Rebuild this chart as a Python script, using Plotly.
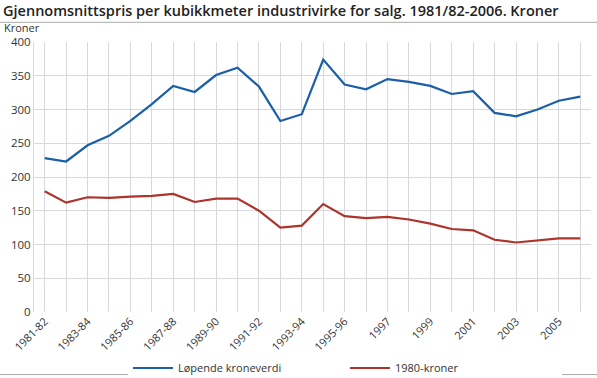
import plotly.graph_objects as go

categories = ["1981-82", "1982-83", "1983-84", "1984-85", "1985-86", "1986-87",
              "1987-88", "1988-89", "1989-90", "1990-91", "1991-92", "1992-93",
              "1993-94", "1994-95", "1995-96", "1996", "1997", "1998", "1999",
              "2000", "2001", "2002", "2003", "2004", "2005", "2006"]
lopende = [228, 223, 247, 261, 283, 308, 335, 326, 351, 362, 334, 283,
           293, 374, 337, 330, 345, 341, 335, 323, 327, 295, 290, 300, 313, 319]
kroner1980 = [179, 162, 170, 169, 171, 172, 175, 163, 168, 168, 150, 125,
              128, 160, 142, 139, 141, 137, 131, 123, 121, 107, 103, 106, 109, 109]
tick_labels = [c if i % 2 == 0 else "" for i, c in enumerate(categories)]
y_ticks = [0, 50, 100, 150, 200, 250, 300, 350, 400]

FONT = "Open Sans"
fig = go.Figure()
fig.add_trace(go.Scatter(x=categories, y=lopende, mode="lines", name="Løpende kroneverdi",
                         line=dict(color="#1a5fa8", width=2.2)))
fig.add_trace(go.Scatter(x=categories, y=kroner1980, mode="lines", name="1980-kroner",
                         line=dict(color="#ad342b", width=2.2)))

W, H = 597, 378
PL, PR, PT, PB = 34, 591, 41.7, 312.3
L, R, T, B = PL, W - PR, PT, H - PB
pw, ph = PR - PL, PB - PT

def px(x):
    return (x - PL) / pw

def py(y):
    return (PB - y) / ph

fig.update_layout(
    width=W, height=H,
    margin=dict(l=L, r=R, t=T, b=B, autoexpand=False),
    paper_bgcolor="white", plot_bgcolor="white",
    font=dict(family=FONT, size=11, color="#333333"),
    showlegend=True,
    legend=dict(orientation="h", x=128 / W, xanchor="left", xref="container",
                y=1 - 368 / H, yanchor="middle", yref="container",
                font=dict(size=11, color="#333333"),
                tracegroupgap=0, itemwidth=40, entrywidth=162),
    xaxis=dict(type="category", range=[-0.5, 25.5], tickmode="array",
               tickvals=categories, ticktext=tick_labels, tickangle=-45,
               showgrid=True, gridcolor="#d8d8de", gridwidth=1,
               showline=False, zeroline=False, ticks="", automargin=False,
               tickfont=dict(size=11, color="#333333")),
    yaxis=dict(range=[0, 400], tickvals=y_ticks, showgrid=True,
               gridcolor="#d8d8de", gridwidth=1, showline=True,
               linecolor="#d8d8de", linewidth=1, zeroline=False, ticks="",
               automargin=False, tickfont=dict(size=11.5, color="#333333")),
    annotations=[
        dict(text="Gjennomsnittspris per kubikkmeter industrivirke for salg. 1981/82-2006. Kroner",
             xref="paper", yref="paper", x=px(1), y=py(10), xanchor="left", yanchor="middle",
             showarrow=False, font=dict(family=FONT, size=14.5, color="#222222", weight=600)),
        dict(text="Kroner", xref="paper", yref="paper", x=px(2), y=py(27),
             xanchor="left", yanchor="middle", showarrow=False,
             font=dict(family=FONT, size=11, color="#333333")),
    ],
    shapes=[
        dict(type="line", xref="paper", yref="paper", x0=px(0), x1=px(597),
             y0=py(22), y1=py(22), line=dict(color="#aaaaaa", width=1)),
        dict(type="line", xref="paper", yref="paper", x0=px(0), x1=px(597),
             y0=py(375), y1=py(375), line=dict(color="#aaaaaa", width=1)),
    ],
)

fig.write_html("out.html", config={"displayModeBar": False},
               post_script="document.body.style.margin='0';")
